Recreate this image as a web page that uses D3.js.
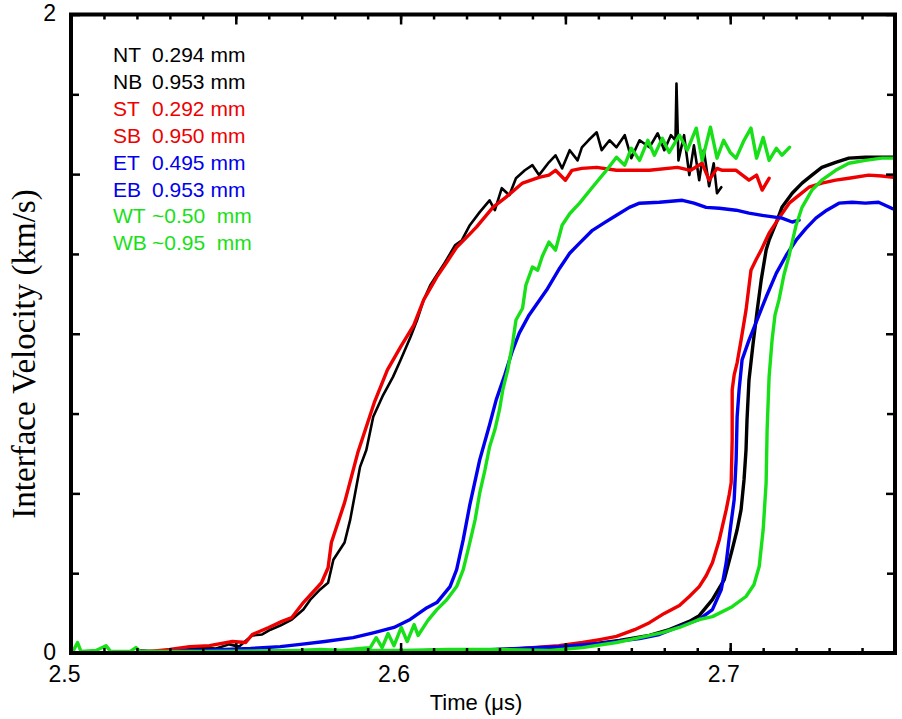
<!DOCTYPE html>
<html>
<head>
<meta charset="utf-8">
<script src="https://cdn.jsdelivr.net/npm/d3@7"></script>
<style>
  html, body { margin: 0; padding: 0; background: #fff; }
  svg { display: block; }
  .tick text { font-family: "Liberation Sans", Arial, sans-serif; font-size: 23px; fill: #000; }
</style>
</head>
<body>
<svg id="chart" width="902" height="719"></svg>
<script>
// Interface velocity histories, [time (µs), velocity (km/s)]
const seriesNT = [
  [2.521,0.008],[2.527,0.005],[2.533,0.011],[2.539,0.017],[2.544,0.014],[2.548,0.027],[2.551,0.020],
  [2.5535,0.042],[2.555,0.055],[2.558,0.058],[2.5605,0.073],[2.5635,0.086],[2.567,0.105],[2.5705,0.136],
  [2.5726,0.167],[2.5756,0.199],[2.578,0.220],[2.5796,0.292],[2.583,0.346],[2.5847,0.417],[2.5877,0.583],
  [2.5896,0.636],[2.5917,0.740],[2.5947,0.808],[2.5977,0.865],[2.600,0.918],[2.603,0.990],[2.605,1.043],
  [2.607,1.106],[2.609,1.152],[2.611,1.184],[2.6135,1.224],[2.6165,1.277],[2.6186,1.293],[2.621,1.340],
  [2.624,1.381],[2.627,1.418],[2.6286,1.387],[2.6307,1.456],[2.633,1.434],[2.635,1.487],[2.6377,1.512],
  [2.640,1.528],[2.642,1.497],[2.645,1.537],[2.647,1.559],[2.649,1.518],[2.6513,1.575],[2.6537,1.543],
  [2.655,1.584],[2.657,1.606],[2.6595,1.631],[2.661,1.575],[2.6634,1.606],[2.6655,1.584],[2.668,1.622],
  [2.670,1.550],[2.6725,1.606],[2.6755,1.584],[2.678,1.628],[2.680,1.575],[2.682,1.622],[2.6834,1.606],
  [2.6837,1.784],[2.6843,1.543],[2.686,1.622],[2.6876,1.497],[2.689,1.590],[2.6906,1.481],[2.692,1.575],
  [2.6936,1.462],[2.695,1.534],[2.696,1.440],[2.6973,1.459]
];
const seriesNB = [
  [2.600,0.005],[2.609,0.008],[2.621,0.005],[2.630,0.011],[2.639,0.014],[2.648,0.017],[2.6573,0.027],
  [2.6664,0.039],[2.6755,0.055],[2.6815,0.073],[2.6876,0.099],[2.6906,0.117],[2.6946,0.167],[2.6982,0.230],
  [2.7006,0.324],[2.7021,0.386],[2.7033,0.449],[2.7042,0.543],[2.7048,0.636],[2.7051,0.730],[2.7057,0.855],
  [2.7069,0.965],[2.7082,1.074],[2.7094,1.168],[2.7109,1.262],[2.7118,1.293],[2.714,1.349],[2.7157,1.396],
  [2.7188,1.440],[2.7218,1.472],[2.7248,1.497],[2.7278,1.521],[2.732,1.537],[2.736,1.550],[2.741,1.553],
  [2.746,1.553],[2.7496,1.553]
];
const seriesST = [
  [2.524,0.005],[2.530,0.011],[2.536,0.020],[2.542,0.023],[2.549,0.036],[2.553,0.033],[2.555,0.058],
  [2.560,0.080],[2.564,0.099],[2.567,0.111],[2.5705,0.158],[2.576,0.220],[2.578,0.267],[2.579,0.346],
  [2.583,0.471],[2.587,0.627],[2.592,0.784],[2.596,0.887],[2.600,0.959],[2.604,1.027],[2.607,1.106],
  [2.611,1.178],[2.614,1.224],[2.617,1.271],[2.620,1.302],[2.623,1.334],[2.628,1.396],[2.632,1.428],
  [2.637,1.472],[2.642,1.490],[2.645,1.497],[2.647,1.512],[2.650,1.481],[2.652,1.512],[2.655,1.518],
  [2.6595,1.521],[2.6655,1.512],[2.6755,1.512],[2.684,1.521],[2.688,1.512],[2.6915,1.534],[2.6936,1.481],
  [2.696,1.518],[2.6976,1.512],[2.7018,1.512],[2.7057,1.481],[2.708,1.497],[2.7097,1.450],[2.7118,1.487]
];
const seriesSB = [
  [2.6059,0.005],[2.625,0.005],[2.640,0.017],[2.648,0.023],[2.6552,0.033],[2.6604,0.042],[2.6655,0.052],
  [2.671,0.073],[2.6755,0.095],[2.680,0.124],[2.6846,0.149],[2.6876,0.177],[2.6906,0.208],[2.6927,0.242],
  [2.6946,0.283],[2.6967,0.355],[2.6988,0.449],[2.6997,0.496],[2.7003,0.533],[2.7006,0.668],[2.7006,0.824],
  [2.7012,0.871],[2.7021,0.909],[2.7033,0.980],[2.7048,1.074],[2.7063,1.199],[2.7078,1.231],[2.7094,1.262],
  [2.7118,1.315],[2.7148,1.362],[2.7179,1.409],[2.7209,1.434],[2.7239,1.459],[2.7278,1.472],[2.732,1.481],
  [2.736,1.487],[2.742,1.497],[2.746,1.494],[2.7496,1.490]
];
const seriesET = [
  [2.530,0.005],[2.539,0.008],[2.5545,0.014],[2.5635,0.020],[2.5696,0.027],[2.577,0.036],[2.5856,0.048],
  [2.592,0.064],[2.598,0.080],[2.6029,0.105],[2.608,0.142],[2.611,0.158],[2.615,0.208],[2.617,0.261],
  [2.619,0.355],[2.621,0.464],[2.624,0.605],[2.627,0.715],[2.629,0.793],[2.6316,0.871],[2.634,0.949],
  [2.636,1.002],[2.639,1.059],[2.6443,1.137],[2.6483,1.206],[2.6513,1.252],[2.6543,1.284],[2.6582,1.324],
  [2.662,1.349],[2.6655,1.371],[2.6694,1.396],[2.6725,1.409],[2.6785,1.412],[2.6855,1.418],[2.689,1.409],
  [2.6927,1.396],[2.6967,1.393],[2.7018,1.387],[2.7057,1.378],[2.7097,1.371],[2.7157,1.362],[2.7188,1.350],
  [2.7209,1.356]
];
const seriesEB = [
  [2.621,0.008],[2.636,0.014],[2.648,0.020],[2.6604,0.030],[2.6725,0.045],[2.6785,0.058],[2.6846,0.083],
  [2.6906,0.105],[2.6946,0.136],[2.6973,0.199],[2.6988,0.283],[2.700,0.386],[2.7012,0.480],[2.7018,0.605],
  [2.7021,0.740],[2.7027,0.824],[2.7036,0.918],[2.7057,0.980],[2.7078,1.034],[2.7109,1.115],[2.714,1.190],
  [2.717,1.246],[2.720,1.293],[2.723,1.330],[2.726,1.362],[2.7293,1.387],[2.733,1.409],[2.737,1.412],
  [2.741,1.409],[2.745,1.412],[2.749,1.393],[2.750,1.390]
];
const seriesWT = [
  [2.5696,0.008],[2.5756,0.011],[2.5817,0.008],[2.5877,0.014],[2.5908,0.017],[2.5926,0.048],[2.5944,0.017],
  [2.5962,0.061],[2.598,0.023],[2.6002,0.080],[2.602,0.036],[2.6041,0.089],[2.6053,0.055],[2.6083,0.102],
  [2.611,0.136],[2.614,0.167],[2.617,0.208],[2.619,0.261],[2.621,0.346],[2.6226,0.417],[2.624,0.501],
  [2.6256,0.574],[2.627,0.646],[2.6286,0.699],[2.630,0.762],[2.631,0.824],[2.6325,0.887],[2.634,0.971],
  [2.635,1.043],[2.637,1.080],[2.638,1.152],[2.640,1.209],[2.6416,1.199],[2.643,1.243],[2.645,1.287],
  [2.647,1.262],[2.649,1.340],[2.6513,1.376],[2.6543,1.409],[2.6582,1.459],[2.662,1.506],[2.6655,1.553],
  [2.668,1.528],[2.670,1.581],[2.6725,1.543],[2.675,1.606],[2.677,1.559],[2.6794,1.612],[2.6815,1.568],
  [2.6846,1.622],[2.687,1.575],[2.6897,1.644],[2.6915,1.543],[2.694,1.647],[2.696,1.550],[2.698,1.606],
  [2.700,1.568],[2.7018,1.550],[2.7042,1.606],[2.7063,1.644],[2.708,1.550],[2.710,1.615],[2.7118,1.543],
  [2.714,1.581],[2.7157,1.559],[2.718,1.584]
];
const seriesWB = [
  [2.5006,0.005],[2.502,0.033],[2.503,0.005],[2.5076,0.008],[2.5106,0.023],[2.512,0.005],[2.518,0.005],
  [2.5197,0.017],[2.521,0.005],[2.5393,0.005],[2.5696,0.008],[2.600,0.008],[2.615,0.011],[2.630,0.011],
  [2.6452,0.008],[2.6552,0.017],[2.6655,0.033],[2.6725,0.048],[2.6794,0.064],[2.6846,0.080],[2.6906,0.105],
  [2.6946,0.114],[2.7006,0.145],[2.7048,0.177],[2.7072,0.214],[2.7088,0.271],[2.710,0.386],[2.7109,0.533],
  [2.7112,0.699],[2.7118,0.865],[2.7127,0.980],[2.7136,1.059],[2.7148,1.106],[2.7163,1.184],[2.7179,1.246],
  [2.720,1.340],[2.7218,1.396],[2.7248,1.450],[2.7278,1.481],[2.732,1.512],[2.736,1.534],[2.741,1.543],
  [2.746,1.550],[2.7496,1.550]
];

// Legend entries: probe label, thickness text
const legendLabels = ["NT", "NB", "ST", "SB", "ET", "EB", "WT", "WB"];
const legendValues = ["0.294 mm", "0.953 mm", "0.292 mm", "0.950 mm", "0.495 mm", "0.953 mm", "~0.50  mm", "~0.95  mm"];

// Axis tick values
const xMajorTicks = [2.5, 2.55, 2.6, 2.65, 2.7, 2.75];
const xLabelTicks = [2.5, 2.6, 2.7];
const xMinorTicks = d3.range(0, 26).map(i => +(2.5 + i * 0.01).toFixed(2));
const yMajorTicks = [0, 0.5, 1, 1.5, 2];
const yMinorTicks = [0.25, 0.75, 1.25, 1.75];
const yLabelTicks = [0, 2];

const BLACK = "#000000", RED = "#ee0000", BLUE = "#0000ee", GREEN = "#18e018";
const lineDefs = [
  { data: seriesNT, color: BLACK, width: 2.6 },
  { data: seriesNB, color: BLACK, width: 3.4 },
  { data: seriesST, color: RED, width: 3.4 },
  { data: seriesSB, color: RED, width: 3.4 },
  { data: seriesET, color: BLUE, width: 3.4 },
  { data: seriesEB, color: BLUE, width: 3.4 },
  { data: seriesWT, color: GREEN, width: 3.4 },
  { data: seriesWB, color: GREEN, width: 3.4 }
];
const legendColors = [BLACK, BLACK, RED, RED, BLUE, BLUE, GREEN, GREEN];

const svg = d3.select("#chart");
const plotLeft = 71, plotRight = 895, plotTop = 14.5, plotBottom = 653;

const x = d3.scaleLinear().domain([2.5, 2.75]).range([plotLeft, plotRight]);
const y = d3.scaleLinear().domain([0, 2]).range([plotBottom, plotTop]);

svg.append("defs").append("clipPath").attr("id", "plotclip")
  .append("rect").attr("x", plotLeft).attr("y", plotTop)
  .attr("width", plotRight - plotLeft).attr("height", plotBottom - plotTop);

// data traces
const line = d3.line().x(d => x(d[0])).y(d => y(d[1]));
const traces = svg.append("g").attr("clip-path", "url(#plotclip)");
lineDefs.forEach(def => {
  traces.append("path")
    .datum(def.data)
    .attr("d", line)
    .attr("fill", "none")
    .attr("stroke", def.color)
    .attr("stroke-width", def.width)
    .attr("stroke-linejoin", "round")
    .attr("stroke-linecap", "round");
});

// inward-pointing tick marks on all four sides
function styleAxis(g) {
  g.select(".domain").remove();
  g.selectAll(".tick line").attr("stroke", "#000").attr("stroke-width", 2.5);
}
const noLabel = () => "";

svg.append("g").attr("transform", `translate(0,${plotBottom})`)
  .call(d3.axisBottom(x).tickValues(xMinorTicks).tickSize(-5).tickFormat(noLabel)).call(styleAxis);
svg.append("g").attr("transform", `translate(0,${plotBottom})`)
  .call(d3.axisBottom(x).tickValues(xMajorTicks).tickSize(-10).tickFormat(noLabel)).call(styleAxis);
svg.append("g").attr("transform", `translate(0,${plotTop})`)
  .call(d3.axisTop(x).tickValues(xMinorTicks).tickSize(-5).tickFormat(noLabel)).call(styleAxis);
svg.append("g").attr("transform", `translate(0,${plotTop})`)
  .call(d3.axisTop(x).tickValues(xMajorTicks).tickSize(-10).tickFormat(noLabel)).call(styleAxis);

svg.append("g").attr("transform", `translate(${plotLeft},0)`)
  .call(d3.axisLeft(y).tickValues(yMinorTicks).tickSize(-8).tickFormat(noLabel)).call(styleAxis);
svg.append("g").attr("transform", `translate(${plotLeft},0)`)
  .call(d3.axisLeft(y).tickValues(yMajorTicks).tickSize(-9).tickFormat(noLabel)).call(styleAxis);
svg.append("g").attr("transform", `translate(${plotRight},0)`)
  .call(d3.axisRight(y).tickValues(yMinorTicks).tickSize(-8).tickFormat(noLabel)).call(styleAxis);
svg.append("g").attr("transform", `translate(${plotRight},0)`)
  .call(d3.axisRight(y).tickValues(yMajorTicks).tickSize(-9).tickFormat(noLabel)).call(styleAxis);

// tick labels
const xLab = svg.append("g").attr("transform", `translate(0,${plotBottom})`)
  .call(d3.axisBottom(x).tickValues(xLabelTicks).tickSize(0).tickPadding(13).tickFormat(d3.format(".1f")));
xLab.select(".domain").remove();
xLab.selectAll(".tick text").attr("dx", -7);

const yLab = svg.append("g").attr("transform", `translate(${plotLeft},0)`)
  .call(d3.axisLeft(y).tickValues(yLabelTicks).tickSize(0).tickPadding(15).tickFormat(d3.format("d")));
yLab.select(".domain").remove();
yLab.selectAll(".tick text").attr("dy", "0.28em");

// frame
svg.append("rect")
  .attr("x", plotLeft).attr("y", plotTop)
  .attr("width", plotRight - plotLeft).attr("height", plotBottom - plotTop)
  .attr("fill", "none").attr("stroke", "#000").attr("stroke-width", 4);

// axis titles
svg.append("text")
  .attr("x", 476).attr("y", 710)
  .attr("text-anchor", "middle")
  .style("font-family", "'Liberation Sans', Arial, sans-serif")
  .style("font-size", "22px")
  .text("Time (μs)");

svg.append("text")
  .attr("transform", "translate(35,354) rotate(-90)")
  .attr("text-anchor", "middle")
  .style("font-family", "'Liberation Serif', 'Times New Roman', serif")
  .style("font-size", "33px")
  .text("Interface Velocity (km/s)");

// legend
const legend = svg.append("g")
  .style("font-family", "'Liberation Sans', Arial, sans-serif")
  .style("font-size", "21px");
legendLabels.forEach((lab, i) => {
  const t = legend.append("text")
    .attr("y", 62 + i * 26.9)
    .attr("fill", legendColors[i])
    .style("white-space", "pre");
  t.append("tspan").attr("x", 113).text(lab);
  t.append("tspan").attr("x", 152).text(legendValues[i]);
});
</script>
</body>
</html>
